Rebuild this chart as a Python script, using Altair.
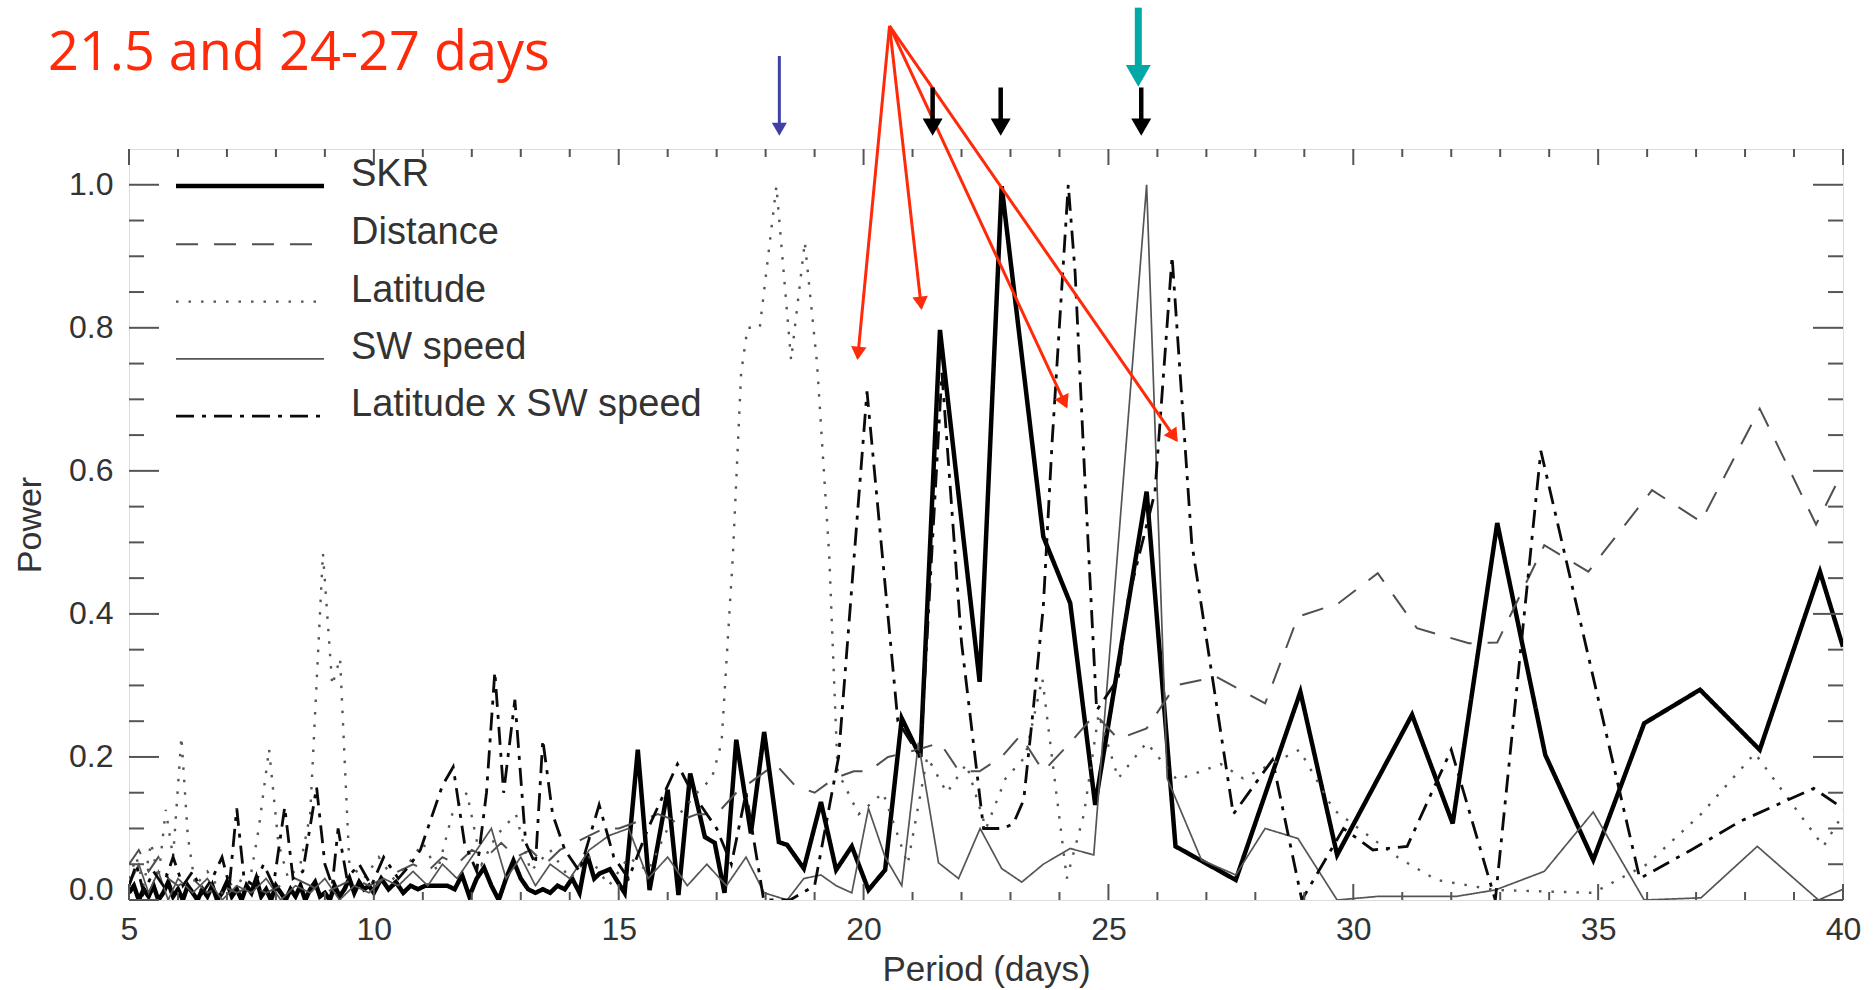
import math
import altair as alt
import pandas as pd

# ---------------- data ----------------
TITLE_TEXT = ["21.5 and 24-27 days"]
SERIES = ["SKR", "Distance", "Latitude", "SW speed", "Latitude x SW speed"]

SKR = [
    (5.0, 0.01), (5.1, 0.02), (5.2, 0.0), (5.3, 0.015), (5.4, 0.005), (5.5, 0.02), (5.6, 0.0), (5.7, 0.01),
    (5.8, 0.025), (5.9, 0.005), (6.0, 0.015), (6.1, 0.0), (6.2, 0.02), (6.3, 0.01), (6.4, 0.0), (6.5, 0.015),
    (6.6, 0.005), (6.7, 0.02), (6.8, 0.0), (6.9, 0.01), (7.0, 0.025), (7.1, 0.005), (7.2, 0.015), (7.3, 0.0),
    (7.4, 0.02), (7.5, 0.01), (7.6, 0.03), (7.7, 0.005), (7.8, 0.015), (7.9, 0.0), (8.0, 0.02), (8.1, 0.01),
    (8.2, 0.0), (8.3, 0.015), (8.4, 0.005), (8.5, 0.02), (8.6, 0.0), (8.7, 0.015), (8.8, 0.025), (8.9, 0.005),
    (9.0, 0.01), (9.1, 0.0), (9.2, 0.02), (9.3, 0.005), (9.4, 0.015), (9.5, 0.03), (9.6, 0.01), (9.7, 0.025),
    (9.8, 0.015), (9.9, 0.02), (10.0, 0.01), (10.15, 0.03), (10.3, 0.015), (10.45, 0.025), (10.6, 0.01),
    (10.75, 0.02), (10.9, 0.015), (11.05, 0.02), (11.2, 0.02), (11.35, 0.02), (11.5, 0.02), (11.65, 0.015),
    (11.8, 0.035), (11.95, 0.005), (12.1, 0.03), (12.25, 0.045), (12.4, 0.02), (12.55, 0.0), (12.7, 0.03),
    (12.85, 0.055), (13.0, 0.03), (13.15, 0.015), (13.3, 0.01), (13.45, 0.015), (13.6, 0.01), (13.75, 0.02),
    (13.9, 0.015), (14.05, 0.03), (14.2, 0.01), (14.35, 0.065), (14.5, 0.03), (14.61, 0.037), (14.82, 0.043),
    (15.12, 0.01), (15.39, 0.21), (15.63, 0.014), (16.0, 0.154), (16.22, 0.007), (16.46, 0.177), (16.76, 0.088),
    (16.96, 0.08), (17.16, 0.01), (17.4, 0.224), (17.7, 0.093), (17.97, 0.235), (18.27, 0.081), (18.44, 0.077),
    (18.78, 0.044), (19.13, 0.137), (19.44, 0.042), (19.76, 0.075), (20.1, 0.014), (20.44, 0.042), (20.78, 0.254),
    (21.16, 0.2), (21.56, 0.797), (22.37, 0.305), (22.82, 0.998), (23.67, 0.508), (24.22, 0.415), (24.73, 0.133),
    (25.78, 0.571), (26.37, 0.075), (27.6, 0.028), (28.92, 0.291), (29.67, 0.063), (31.2, 0.259), (32.03, 0.107),
    (32.94, 0.527), (33.92, 0.203), (34.9, 0.056), (35.94, 0.247), (37.08, 0.294), (38.3, 0.21), (39.53, 0.459),
    (40.0, 0.354),
]

DISTANCE = [
    (5.0, 0.05), (5.2, 0.07), (5.4, 0.04), (5.6, 0.06), (5.8, 0.03), (6.0, 0.02), (6.3, 0.03), (6.6, 0.01),
    (6.9, 0.02), (7.2, 0.01), (7.5, 0.02), (7.8, 0.01), (8.1, 0.02), (8.4, 0.03), (8.7, 0.02), (9.0, 0.01),
    (9.3, 0.02), (9.6, 0.03), (9.9, 0.02), (10.2, 0.03), (10.5, 0.04), (10.8, 0.05), (11.1, 0.04), (11.4, 0.06),
    (11.7, 0.05), (12.0, 0.07), (12.3, 0.06), (12.6, 0.08), (12.9, 0.06), (13.2, 0.07), (13.5, 0.05), (13.8, 0.07),
    (14.1, 0.08), (14.4, 0.09), (14.7, 0.1), (15.0, 0.1), (15.4, 0.11), (15.8, 0.12), (16.2, 0.11), (16.6, 0.12),
    (17.0, 0.12), (17.4, 0.15), (17.8, 0.17), (18.2, 0.19), (18.6, 0.16), (19.0, 0.15), (19.4, 0.17), (19.8, 0.18),
    (20.1, 0.18), (20.5, 0.2), (21.1, 0.21), (21.56, 0.22), (21.95, 0.18), (22.37, 0.18), (22.82, 0.2),
    (23.2, 0.23), (23.67, 0.18), (24.22, 0.22), (24.73, 0.26), (25.2, 0.225), (25.78, 0.24), (26.37, 0.3),
    (27.2, 0.312), (28.2, 0.275), (28.87, 0.396), (29.7, 0.415), (30.5, 0.457), (31.3, 0.38), (32.36, 0.359),
    (32.94, 0.36), (33.9, 0.496), (34.8, 0.459), (36.1, 0.573), (37.1, 0.529), (38.3, 0.687), (39.45, 0.525),
    (40.0, 0.6),
]

LATITUDE = [
    (5.0, 0.03), (5.15, 0.06), (5.3, 0.02), (5.45, 0.08), (5.6, 0.03), (5.75, 0.126), (5.9, 0.06), (6.07, 0.228),
    (6.2, 0.09), (6.35, 0.02), (6.6, 0.04), (6.9, 0.01), (7.2, 0.03), (7.45, 0.02), (7.65, 0.1), (7.86, 0.211),
    (8.05, 0.08), (8.25, 0.03), (8.5, 0.05), (8.7, 0.12), (8.96, 0.485), (9.15, 0.3), (9.31, 0.338), (9.5, 0.05),
    (9.8, 0.03), (10.1, 0.06), (10.4, 0.03), (10.7, 0.05), (11.0, 0.08), (11.3, 0.04), (11.6, 0.12), (11.9, 0.15),
    (12.2, 0.05), (12.5, 0.09), (12.9, 0.12), (13.2, 0.04), (13.6, 0.07), (14.0, 0.03), (14.4, 0.06), (14.8, 0.02),
    (15.2, 0.06), (15.6, 0.04), (16.0, 0.1), (16.6, 0.15), (16.9, 0.17), (17.1, 0.22), (17.33, 0.48), (17.5, 0.737),
    (17.63, 0.8), (17.88, 0.8), (18.22, 0.998), (18.52, 0.755), (18.8, 0.92), (19.05, 0.75), (19.3, 0.48),
    (19.47, 0.18), (19.9, 0.12), (20.4, 0.15), (20.9, 0.05), (21.3, 0.2), (21.7, 0.15), (22.1, 0.19), (22.5, 0.1),
    (22.9, 0.17), (23.3, 0.2), (23.65, 0.31), (24.15, 0.03), (24.5, 0.12), (24.8, 0.26), (25.2, 0.17),
    (25.78, 0.22), (26.4, 0.168), (27.3, 0.19), (27.75, 0.17), (28.9, 0.21), (29.6, 0.126), (30.9, 0.06),
    (31.7, 0.028), (32.9, 0.014), (34.9, 0.01), (36.0, 0.05), (37.1, 0.12), (38.2, 0.205), (39.6, 0.075),
    (40.0, 0.12),
]

SW_SPEED = [
    (5.0, 0.02), (5.2, 0.05), (5.4, 0.01), (5.6, 0.04), (5.8, 0.0), (6.0, 0.03), (6.3, 0.01), (6.6, 0.03),
    (6.9, 0.0), (7.2, 0.02), (7.5, 0.01), (7.8, 0.03), (8.1, 0.0), (8.4, 0.02), (8.7, 0.01), (9.0, 0.03),
    (9.3, 0.0), (9.6, 0.02), (9.9, 0.01), (10.2, 0.03), (10.5, 0.02), (10.8, 0.04), (11.1, 0.02), (11.4, 0.05),
    (11.7, 0.03), (12.0, 0.06), (12.4, 0.1), (12.7, 0.03), (13.0, 0.06), (13.3, 0.02), (13.6, 0.05), (14.0, 0.03),
    (14.4, 0.07), (14.8, 0.09), (15.2, 0.1), (15.6, 0.03), (16.0, 0.06), (16.4, 0.02), (16.8, 0.05), (17.2, 0.02),
    (17.6, 0.06), (17.97, 0.01), (18.44, 0.0), (18.78, 0.03), (19.13, 0.035), (19.44, 0.02), (19.76, 0.01),
    (20.1, 0.128), (20.44, 0.06), (20.78, 0.02), (21.12, 0.22), (21.53, 0.052), (21.94, 0.03), (22.38, 0.1),
    (22.82, 0.044), (23.23, 0.025), (23.67, 0.05), (24.22, 0.072), (24.7, 0.063), (25.78, 1.0), (26.2, 0.17),
    (26.9, 0.056), (27.6, 0.035), (28.2, 0.1), (28.87, 0.086), (29.67, 0.0), (30.5, 0.005), (32.1, 0.005),
    (32.9, 0.014), (33.9, 0.04), (34.9, 0.123), (35.94, 0.0), (37.1, 0.003), (38.25, 0.075), (39.5, 0.0),
    (40.0, 0.015),
]

LAT_X_SW = [
    (5.0, 0.02), (5.15, 0.05), (5.3, 0.01), (5.5, 0.04), (5.7, 0.02), (5.9, 0.06), (6.1, 0.02), (6.3, 0.04),
    (6.5, 0.01), (6.7, 0.03), (6.9, 0.06), (7.05, 0.02), (7.2, 0.128), (7.35, 0.03), (7.55, 0.02), (7.75, 0.05),
    (7.95, 0.02), (8.18, 0.13), (8.35, 0.03), (8.55, 0.04), (8.83, 0.158), (9.0, 0.05), (9.15, 0.02), (9.27, 0.1),
    (9.45, 0.03), (9.7, 0.05), (9.95, 0.02), (10.2, 0.06), (10.5, 0.03), (10.75, 0.05), (10.95, 0.07),
    (11.2, 0.12), (11.4, 0.16), (11.62, 0.186), (11.85, 0.08), (12.1, 0.04), (12.3, 0.15), (12.47, 0.319),
    (12.65, 0.15), (12.88, 0.28), (13.1, 0.08), (13.3, 0.05), (13.45, 0.224), (13.65, 0.12), (13.9, 0.07),
    (14.2, 0.04), (14.6, 0.133), (14.9, 0.06), (15.2, 0.03), (15.6, 0.1), (16.2, 0.19), (16.5, 0.15),
    (16.8, 0.12), (17.0, 0.1), (17.3, 0.05), (17.6, 0.15), (17.96, 0.0), (18.5, 0.0), (19.0, 0.02), (19.49, 0.2),
    (20.07, 0.711), (20.7, 0.25), (21.16, 0.2), (21.6, 0.737), (22.0, 0.36), (22.45, 0.1), (22.86, 0.1),
    (23.06, 0.107), (23.27, 0.14), (23.47, 0.27), (23.67, 0.41), (23.85, 0.64), (24.18, 1.0), (24.32, 0.877),
    (24.52, 0.587), (24.76, 0.265), (25.2, 0.31), (25.4, 0.42), (25.95, 0.57), (26.3, 0.9), (26.7, 0.5),
    (27.55, 0.12), (28.35, 0.196), (28.95, 0.0), (29.8, 0.1), (30.4, 0.07), (31.1, 0.075), (32.0, 0.21),
    (32.9, 0.0), (33.83, 0.628), (35.85, 0.03), (36.9, 0.07), (37.9, 0.11), (39.4, 0.156), (40.0, 0.128),
]

X_MAJOR = [5, 10, 15, 20, 25, 30, 35, 40]
X_MINOR = [6, 7, 8, 9, 11, 12, 13, 14, 16, 17, 18, 19, 21, 22, 23, 24, 26, 27, 28, 29,
           31, 32, 33, 34, 36, 37, 38, 39]
Y_MAJOR = [0.0, 0.2, 0.4, 0.6, 0.8, 1.0]
Y_MINOR = [0.05, 0.1, 0.15, 0.25, 0.3, 0.35, 0.45, 0.5, 0.55, 0.65, 0.7, 0.75, 0.85, 0.9, 0.95]

# red annotation arrows (data units: period, power)
RED_FROM = (20.53, 1.222)
RED_TIP_PERIOD = [19.88, 21.18, 24.14, 26.39]
RED_TIP_POWER = [0.758, 0.828, 0.69, 0.643]

# vertical marker arrows above the frame
MARK_PERIOD = [18.28, 21.41, 22.80, 25.67, 25.61]
MARK_TOP = [1.180, 1.136, 1.136, 1.136, 1.2476]
MARK_TIP = [1.0685, 1.0685, 1.0685, 1.0685, 1.137]

# ---------------- styles ----------------
FONT = "Liberation Sans, Arial, Helvetica, sans-serif"
TEXT_COLOR = "#333333"
RED = "#FF2A0A"
SERIES_COLORS = ["#000000", "#505050", "#555555", "#555555", "#0a0a0a"]
SERIES_DASH = [[1, 0], [22, 16], [2.5, 10], [1, 0], [18, 8, 4, 8]]
SERIES_WIDTH = [4.5, 2.0, 2.4, 1.7, 2.8]
MARK_COLOR = ["#3F3FA6", "#000000", "#000000", "#000000", "#00A8A6"]
MARK_SHAFT = [3, 4.5, 4.5, 4.5, 7]
MARK_HEAD = [225, 400, 400, 400, 625]
RED_HEAD = 240

W, H = 1714, 751
XDOM = [5, 40]
YDOM = [0, 1.05]
PX_X = W / (XDOM[1] - XDOM[0])
PX_Y = H / (YDOM[1] - YDOM[0])

xs = alt.Scale(domain=XDOM, nice=False, zero=False)
ys = alt.Scale(domain=YDOM, nice=False, zero=False)

rows = []
for name, pts in zip(SERIES, [SKR, DISTANCE, LATITUDE, SW_SPEED, LAT_X_SW]):
    for p, v in pts:
        rows.append({"period": p, "power": v, "series": name})
df = pd.DataFrame(rows)

legend = alt.Legend(
    title=None, orient="none", legendX=102, legendY=18, padding=0,
    symbolType="M-5,0L5,0", symbolSize=876, labelOffset=82, rowPadding=19.3,
    labelFont=FONT, labelFontSize=38, labelColor=TEXT_COLOR, labelLimit=0,
    labelBaseline="alphabetic",
)

lines = alt.Chart(df).mark_line(clip=True).encode(
    x=alt.X("period:Q", scale=xs, axis=alt.Axis(
        values=X_MAJOR, format="d", ticks=False, domain=False, grid=False,
        labelFont=FONT, labelFontSize=32, labelColor=TEXT_COLOR, labelPadding=14,
        labelFlush=False, labelOverlap=False,
        title="Period (days)", titleFont=FONT, titleFontSize=35, titleFontWeight="normal",
        titleColor=TEXT_COLOR, titlePadding=7)),
    y=alt.Y("power:Q", scale=ys, axis=alt.Axis(
        values=Y_MAJOR, format=".1f", ticks=False, domain=False, grid=False,
        labelFont=FONT, labelFontSize=32, labelColor=TEXT_COLOR, labelPadding=16,
        labelFlush=True, labelFlushOffset=6, labelOverlap=False,
        title="Power", titleFont=FONT, titleFontSize=34, titleFontWeight="normal",
        titleColor=TEXT_COLOR, titlePadding=21)),
    color=alt.Color("series:N", scale=alt.Scale(domain=SERIES, range=SERIES_COLORS), legend=legend),
    strokeDash=alt.StrokeDash("series:N", scale=alt.Scale(type="ordinal", domain=SERIES, range=SERIES_DASH),
                              legend=legend),
    strokeWidth=alt.StrokeWidth("series:N", scale=alt.Scale(type="ordinal", domain=SERIES, range=SERIES_WIDTH),
                                legend=legend),
)

TICK_COLOR = "#555555"


def xticks(values, length, top):
    d = pd.DataFrame({"period": values})
    y0, y1 = (0, length) if top else (H, H - length)
    return alt.Chart(d).mark_rule(color=TICK_COLOR, strokeWidth=2).encode(
        x=alt.X("period:Q", scale=xs), y=alt.value(y0), y2=alt.value(y1))


def yticks(values, length, right):
    d = pd.DataFrame({"power": values})
    x0, x1 = (W, W - length) if right else (0, length)
    return alt.Chart(d).mark_rule(color=TICK_COLOR, strokeWidth=2).encode(
        y=alt.Y("power:Q", scale=ys), x=alt.value(x0), x2=alt.value(x1))


ticks = [
    xticks(X_MAJOR, 16, False), xticks(X_MINOR, 8, False),
    xticks(X_MAJOR, 16, True), xticks(X_MINOR, 8, True),
    yticks(Y_MAJOR, 30, False), yticks(Y_MINOR, 15, False),
    yticks(Y_MAJOR, 30, True), yticks(Y_MINOR, 15, True),
]

# red arrows
red_df = pd.DataFrame({
    "period": [RED_FROM[0]] * len(RED_TIP_PERIOD),
    "power": [RED_FROM[1]] * len(RED_TIP_PERIOD),
    "period2": RED_TIP_PERIOD,
    "power2": RED_TIP_POWER,
})
red_lines = alt.Chart(red_df).mark_rule(color=RED, strokeWidth=3, clip=False).encode(
    x=alt.X("period:Q", scale=xs), y=alt.Y("power:Q", scale=ys),
    x2="period2:Q", y2="power2:Q")

head_rows = []
h_red = 0.433 * math.sqrt(RED_HEAD)
for tp, tv in zip(RED_TIP_PERIOD, RED_TIP_POWER):
    dx = (tp - RED_FROM[0]) * PX_X
    dy = -(tv - RED_FROM[1]) * PX_Y
    L = math.hypot(dx, dy)
    ux, uy = dx / L, dy / L
    ang = math.degrees(math.atan2(dx, -dy)) % 360
    head_rows.append({
        "period": tp - ux * h_red / PX_X,
        "power": tv + uy * h_red / PX_Y,
        "angle": ang,
    })
red_heads = alt.Chart(pd.DataFrame(head_rows)).mark_point(
    shape="triangle", filled=True, size=RED_HEAD, color=RED, opacity=1, strokeWidth=0, clip=False
).encode(x=alt.X("period:Q", scale=xs), y=alt.Y("power:Q", scale=ys),
         angle=alt.Angle("angle:Q", scale=None))

marks = []
for p, top, tip, col, sw, hs in zip(MARK_PERIOD, MARK_TOP, MARK_TIP, MARK_COLOR, MARK_SHAFT, MARK_HEAD):
    hh = 0.433 * math.sqrt(hs)
    center = tip + hh / PX_Y
    shaft = alt.Chart(pd.DataFrame({"period": [p], "power": [top], "power2": [center]})).mark_rule(
        color=col, strokeWidth=sw, clip=False).encode(
        x=alt.X("period:Q", scale=xs), y=alt.Y("power:Q", scale=ys), y2="power2:Q")
    head = alt.Chart(pd.DataFrame({"period": [p], "power": [center]})).mark_point(
        shape="triangle-down", filled=True, size=hs, color=col, opacity=1, strokeWidth=0, clip=False
    ).encode(x=alt.X("period:Q", scale=xs), y=alt.Y("power:Q", scale=ys))
    marks += [shaft, head]

title = alt.Chart(pd.DataFrame({"t": TITLE_TEXT})).mark_text(
    align="left", baseline="alphabetic", font="Open Sans", fontSize=54, color=RED
).encode(text="t:N", x=alt.value(-81), y=alt.value(-79))

chart = alt.layer(lines, *ticks, red_lines, red_heads, *marks, title).properties(
    width=W, height=H,
    padding={"left": 129, "top": 149, "right": 30, "bottom": 90},
    autosize=alt.AutoSizeParams(type="none"),
).configure_view(stroke="#666666", strokeWidth=2.5).configure(background="white")

chart.save("out.html", embed_options={"renderer": "svg", "actions": False})
